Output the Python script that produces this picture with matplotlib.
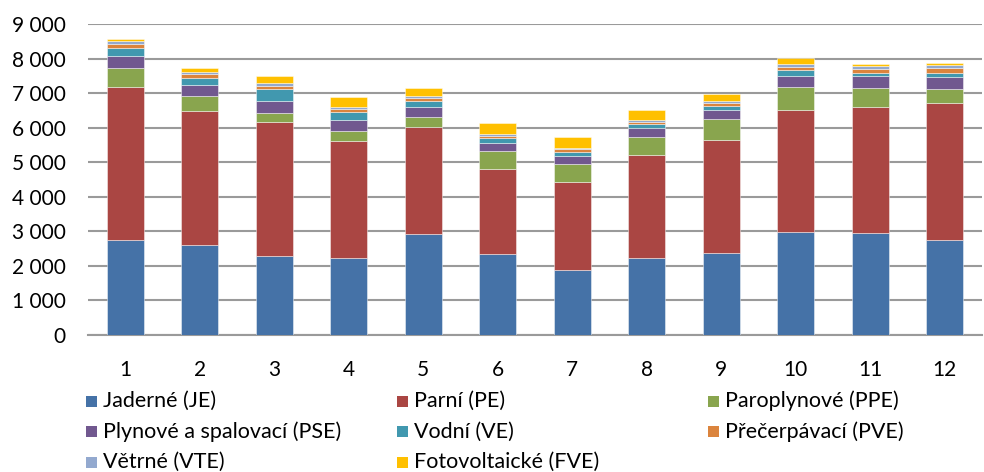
import matplotlib
matplotlib.use("Agg")
import matplotlib.pyplot as plt
from matplotlib.patches import Rectangle
from matplotlib.ticker import FuncFormatter
import numpy as np

plt.rcParams['font.family'] = ['Lato', 'DejaVu Sans']

months = ["1", "2", "3", "4", "5", "6", "7", "8", "9", "10", "11", "12"]

# monthly production by source
je = [2740, 2610, 2295, 2225, 2915, 2350, 1885, 2225, 2380, 2990, 2960, 2750]
pe = [4430, 3884, 3879, 3381, 3110, 2460, 2548, 2980, 3255, 3534, 3638, 3965]
ppe = [552, 415, 261, 304, 275, 502, 505, 537, 606, 646, 552, 407]
pse = [358, 319, 329, 312, 290, 252, 248, 251, 271, 330, 350, 358]
ve = [232, 212, 348, 222, 174, 136, 106, 107, 107, 155, 86, 116]
pve = [98, 99, 96, 87, 96, 58, 78, 78, 96, 105, 107, 136]
vte = [87, 58, 87, 67, 58, 58, 49, 48, 49, 78, 97, 77]
fve = [59, 134, 195, 282, 232, 329, 300, 280, 212, 166, 48, 58]

series_names = ["Jaderné (JE)", "Parní (PE)", "Paroplynové (PPE)",
                "Plynové a spalovací (PSE)", "Vodní (VE)", "Přečerpávací (PVE)",
                "Větrné (VTE)", "Fotovoltaické (FVE)"]
series = [je, pe, ppe, pse, ve, pve, vte, fve]
colors = ["#4572A7", "#AA4643", "#89A54E", "#71588F",
          "#4198AF", "#DB843D", "#93A9CF", "#FFC000"]

W, H = 984, 472
fig = plt.figure(figsize=(W / 100, H / 100), dpi=100)
ax = fig.add_axes([88 / W, 1 - 335 / H, 0.998 - 88 / W, (335 - 24) / H])

x = np.arange(1, len(months) + 1)
bottom = np.zeros(len(months))
for vals, col in zip(series, colors):
    ax.bar(x, vals, width=0.5, bottom=bottom, color=col,
           edgecolor=(1, 1, 1, 0.45), linewidth=0.7, zorder=3)
    bottom += np.array(vals)

ax.set_xlim(0.5, 12.5)
ax.set_ylim(0, 9000)
ax.set_yticks(np.arange(0, 9001, 1000))
ax.yaxis.set_major_formatter(FuncFormatter(lambda v, p: f"{int(v):,}".replace(",", " ")))
ax.set_xticks(x)
ax.set_xticklabels(months)
ax.grid(axis="y", color="#9a9a9a", linewidth=1.5, zorder=0)
for s in ["top", "right", "left"]:
    ax.spines[s].set_visible(False)
ax.spines["bottom"].set_color("#9a9a9a")
ax.spines["bottom"].set_linewidth(1.5)
ax.tick_params(axis="both", length=0, labelsize=15, colors="black")
ax.tick_params(axis="y", pad=16)
ax.tick_params(axis="x", pad=18)

# legend laid out as in the original: 3 columns, rows filled left to right
for i, (name, col) in enumerate(zip(series_names, colors)):
    r, c = divmod(i, 3)
    px = 86 + c * 311
    py = 401 + r * 30.5
    fig.patches.append(Rectangle((px / W, 1 - (py + 5.5) / H), 11 / W, 11 / H,
                                 transform=fig.transFigure, facecolor=col,
                                 edgecolor="none"))
    fig.text((px + 17) / W, 1 - py / H, name, fontsize=15.5, va="center",
             ha="left", color="black")

fig.savefig("out.png", dpi=100)
